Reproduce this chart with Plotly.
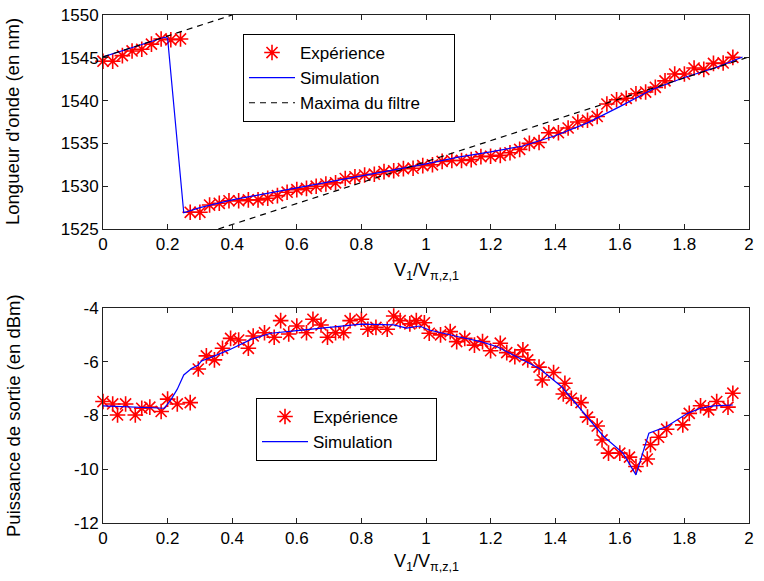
import plotly.graph_objects as go
from plotly.subplots import make_subplots

# ---------------- data: top panel (wavelength) ----------------
x_exp_top = [0.00, 0.03, 0.06, 0.09, 0.12, 0.15, 0.18, 0.21, 0.24, 0.27,
             0.30, 0.33, 0.36, 0.39, 0.42, 0.45, 0.48, 0.51, 0.54, 0.57,
             0.60, 0.63, 0.66, 0.69, 0.72, 0.75, 0.78, 0.81, 0.84, 0.87,
             0.90, 0.93, 0.96, 0.99, 1.02, 1.05, 1.08, 1.11, 1.14, 1.17,
             1.20, 1.23, 1.26, 1.29, 1.32, 1.35, 1.38, 1.41, 1.44, 1.47,
             1.50, 1.53, 1.56, 1.59, 1.62, 1.65, 1.68, 1.71, 1.74, 1.77,
             1.80, 1.83, 1.86, 1.89, 1.92, 1.95]
lambda_exp = [1544.6, 1544.6, 1545.25, 1545.8, 1546.0, 1546.6, 1547.2, 1547.1, 1547.2, 1526.95,
              1526.95, 1527.8, 1528.0, 1528.3, 1528.3, 1528.4, 1528.4, 1528.6, 1528.9, 1529.3,
              1529.6, 1529.75, 1530.0, 1530.25, 1530.4, 1530.9, 1531.1, 1531.3, 1531.4, 1531.7,
              1531.8, 1532.05, 1532.1, 1532.4, 1532.5, 1532.9, 1533.0, 1533.0, 1533.1, 1533.45,
              1533.5, 1533.6, 1533.9, 1534.3, 1535.0, 1535.1, 1536.25, 1536.25, 1536.8, 1537.5,
              1537.7, 1538.15, 1539.6, 1540.1, 1540.27, 1540.8, 1541.0, 1541.55, 1542.3, 1543.1,
              1543.1, 1543.8, 1543.65, 1544.35, 1544.4, 1545.05]

x_sim_top = [0.00, 0.19, 0.20, 0.25, 0.30, 0.40, 0.50, 0.60, 0.70, 0.80, 0.90,
             1.00, 1.10, 1.20, 1.30, 1.40, 1.50, 1.60, 1.70, 1.80, 1.90, 1.98]
lambda_sim = [1545.1, 1547.4, 1547.3, 1526.9, 1527.5, 1528.4, 1529.1, 1529.8, 1530.5, 1531.2, 1531.9,
              1532.6, 1533.4, 1534.0, 1534.7, 1535.9, 1537.4, 1539.3, 1541.3, 1542.7, 1543.9, 1545.1]

x_max1 = [0.00, 0.40]
lambda_max1 = [1545.1, 1550.0]
x_max2 = [0.357, 2.00]
lambda_max2 = [1525.0, 1545.1]

# ---------------- data: bottom panel (power) ----------------
x_exp_bot = [0.00, 0.03, 0.045, 0.07, 0.10, 0.12, 0.145, 0.18, 0.20, 0.23,
             0.27, 0.295, 0.32, 0.345, 0.37, 0.395, 0.42, 0.45, 0.465, 0.50,
             0.53, 0.55, 0.575, 0.60, 0.63, 0.65, 0.675, 0.695, 0.72, 0.745,
             0.765, 0.80, 0.82, 0.845, 0.88, 0.90, 0.92, 0.95, 0.97, 0.995,
             1.01, 1.045, 1.075, 1.095, 1.12, 1.15, 1.175, 1.20, 1.23, 1.25,
             1.275, 1.30, 1.315, 1.35, 1.36, 1.395, 1.425, 1.43, 1.45, 1.48,
             1.50, 1.53, 1.545, 1.565, 1.60, 1.63, 1.65, 1.685, 1.695, 1.72,
             1.745, 1.795, 1.815, 1.85, 1.875, 1.90, 1.935, 1.95]
p_exp = [-7.48, -7.57, -7.98, -7.57, -7.98, -7.73, -7.69, -7.85, -7.39, -7.57,
         -7.52, -6.27, -5.78, -5.93, -5.50, -5.13, -5.19, -5.50, -5.04, -4.92,
         -5.09, -4.47, -4.97, -4.67, -4.92, -4.42, -4.63, -5.09, -4.92, -4.92,
         -4.47, -4.42, -4.79, -4.72, -4.79, -4.30, -4.47, -4.59, -4.47, -4.55,
         -4.94, -5.00, -4.88, -5.25, -5.13, -5.38, -5.25, -5.59, -5.31, -5.66,
         -5.81, -5.56, -5.93, -6.20, -6.68, -6.40, -7.20, -6.80, -7.36, -7.52,
         -8.06, -8.39, -8.91, -9.40, -9.40, -9.55, -9.90, -9.62, -9.09, -8.81,
         -8.51, -8.35, -7.92, -7.64, -7.79, -7.48, -7.69, -7.17]

x_sim_bot = [0.00, 0.19, 0.21, 0.23, 0.25, 0.275, 0.295, 0.305, 0.34, 0.39, 0.46, 0.52,
             0.60, 0.68, 0.80, 0.90, 0.94, 0.98, 1.01, 1.10, 1.17, 1.22, 1.29, 1.35,
             1.42, 1.49, 1.55, 1.61, 1.65, 1.69, 1.745, 1.81, 1.85, 1.89, 1.95]
p_sim = [-7.64, -7.73, -7.42, -7.02, -6.49, -6.24, -6.12, -5.97, -5.81, -5.56, -5.16, -4.94,
         -4.84, -4.75, -4.60, -4.63, -4.75, -4.67, -4.82, -5.07, -5.25, -5.44, -5.87, -6.24,
         -6.93, -7.92, -8.78, -9.40, -10.21, -8.66, -8.41, -7.92, -7.73, -7.64, -7.61]

x_ticks = [0, 0.2, 0.4, 0.6, 0.8, 1, 1.2, 1.4, 1.6, 1.8, 2]
x_ticktext = ["0", "0.2", "0.4", "0.6", "0.8", "1", "1.2", "1.4", "1.6", "1.8", "2"]
y_top_ticks = [1525, 1530, 1535, 1540, 1545, 1550]
y_bot_ticks = [-12, -10, -8, -6, -4]
y_bot_ticktext = ["-12", "-10", "-8", "-6", "-4"]

legend_exp = "Expérience"
legend_sim = "Simulation"
legend_max = "Maxima du filtre"
x_title = "V<sub>1</sub>/V<sub>π,z,1</sub>"
y_top_title = "Longueur d'onde (en nm)"
y_bot_title = "Puissance de sortie (en dBm)"

# ---------------- figure ----------------
W, H = 764, 581
ml, mr, mt, mb = 103, 15, 15, 58
plot_w = W - ml - mr
plot_h = H - mt - mb

def py2paper(py):
    return (H - mb - py) / plot_h

def px2paper(px):
    return (px - ml) / plot_w

fig = make_subplots(rows=2, cols=1)

red = "#ff0000"
blue = "#0000ff"
pad = "\u00a0" * 6

star = dict(symbol="asterisk-open", size=13, color=red, line=dict(color=red, width=1.6))

fig.add_trace(go.Scatter(x=x_exp_top, y=lambda_exp, mode="markers", name=legend_exp,
                         marker=star, cliponaxis=False, legend="legend"), row=1, col=1)
fig.add_trace(go.Scatter(x=x_sim_top, y=lambda_sim, mode="lines", name=legend_sim,
                         line=dict(color=blue, width=1.2), legend="legend"), row=1, col=1)
fig.add_trace(go.Scatter(x=x_max1, y=lambda_max1, mode="lines", name=legend_max + pad,
                         line=dict(color="black", width=1.2, dash="6px,5px"), legend="legend"), row=1, col=1)
fig.add_trace(go.Scatter(x=x_max2, y=lambda_max2, mode="lines", name=legend_max, showlegend=False,
                         line=dict(color="black", width=1.2, dash="6px,5px")), row=1, col=1)

fig.add_trace(go.Scatter(x=x_exp_bot, y=p_exp, mode="markers", name=legend_exp,
                         marker=star, cliponaxis=False, legend="legend2"), row=2, col=1)
fig.add_trace(go.Scatter(x=x_sim_bot, y=p_sim, mode="lines", name=legend_sim + pad + "\u00a0\u00a0",
                         line=dict(color=blue, width=1.2), legend="legend2"), row=2, col=1)

regular = "Liberation Sans, Arial, sans-serif"

axis_common = dict(showline=True, linecolor="#222", linewidth=1, mirror="ticks",
                   ticks="inside", ticklen=5, tickcolor="#222", showgrid=False, zeroline=False,
                   automargin=False,
                   tickfont=dict(family=regular, size=17, color="black"))

fig.update_xaxes(range=[0, 2], tickvals=x_ticks, ticktext=x_ticktext, domain=[0, 1], **axis_common)

fig.update_yaxes(**axis_common)
fig.update_yaxes(range=[1525, 1550], tickvals=y_top_ticks,
                 domain=[py2paper(229), py2paper(15)], row=1, col=1)
fig.update_yaxes(range=[-12, -4], tickvals=y_bot_ticks, ticktext=y_bot_ticktext,
                 domain=[py2paper(523), py2paper(308)], row=2, col=1)

title_font = dict(family=regular, size=18, color="black")
annotations = [
    dict(text=x_title, x=px2paper(426), y=py2paper(271), xref="paper", yref="paper",
         showarrow=False, xanchor="center", yanchor="middle", font=title_font),
    dict(text=x_title, x=px2paper(426), y=py2paper(562), xref="paper", yref="paper",
         showarrow=False, xanchor="center", yanchor="middle", font=title_font),
    dict(text=y_top_title, x=px2paper(13), y=py2paper(122), xref="paper", yref="paper",
         showarrow=False, xanchor="center", yanchor="middle", textangle=-90,
         font=dict(family=regular, size=18.5, color="black")),
    dict(text=y_bot_title, x=px2paper(13), y=py2paper(416), xref="paper", yref="paper",
         showarrow=False, xanchor="center", yanchor="middle", textangle=-90,
         font=dict(family=regular, size=18.5, color="black")),
]

legend_style = dict(bgcolor="white", bordercolor="black", borderwidth=1,
                    font=dict(family=regular, size=17, color="black"),
                    xanchor="left", yanchor="top", itemwidth=46, tracegroupgap=0)

fig.update_layout(
    width=W, height=H,
    margin=dict(l=ml, r=mr, t=mt, b=mb, autoexpand=False),
    paper_bgcolor="white", plot_bgcolor="white",
    showlegend=True,
    annotations=annotations,
    legend=dict(x=px2paper(243), y=py2paper(34), **legend_style),
    legend2=dict(x=px2paper(256), y=py2paper(398), **legend_style),
)

fig.write_html("out.html", config={"displayModeBar": False},
               post_script="document.body.style.margin='0px';")
